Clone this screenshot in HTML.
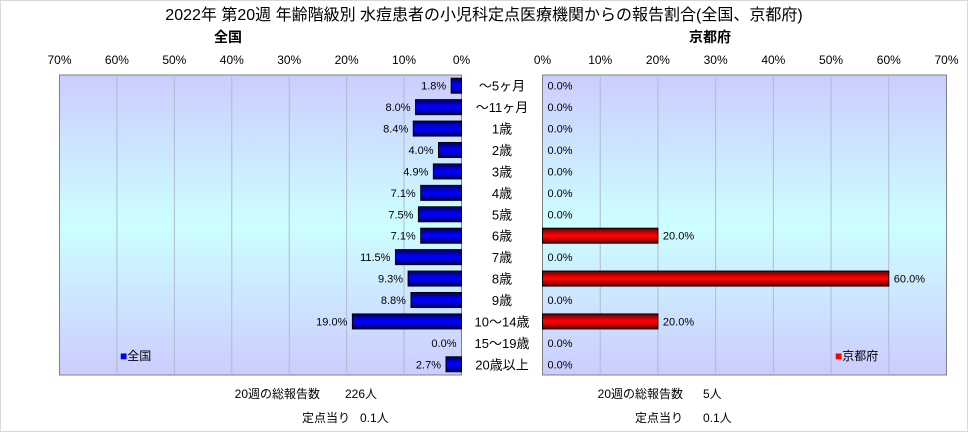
<!DOCTYPE html>
<html><head><meta charset="utf-8"><style>
html,body{margin:0;padding:0;background:#fff;}
body{width:968px;height:432px;overflow:hidden;font-family:"Liberation Sans","Noto Sans CJK JP",sans-serif;}
svg text{font-family:"Liberation Sans","Noto Sans CJK JP",sans-serif;}
</style></head><body>
<svg id="chart" width="968" height="432" xmlns="http://www.w3.org/2000/svg">
<defs>
<linearGradient id="bg" x1="0" y1="0" x2="0" y2="1">
<stop offset="0" stop-color="#ccccff"/><stop offset="0.5" stop-color="#ccffff"/><stop offset="1" stop-color="#ccccff"/>
</linearGradient>
<linearGradient id="blue" x1="0" y1="0" x2="0" y2="1">
<stop offset="0" stop-color="#000060"/><stop offset="0.45" stop-color="#0000ff"/><stop offset="0.55" stop-color="#0000ff"/><stop offset="1" stop-color="#000060"/>
</linearGradient>
<linearGradient id="red" x1="0" y1="0" x2="0" y2="1">
<stop offset="0" stop-color="#600000"/><stop offset="0.45" stop-color="#ff0000"/><stop offset="0.55" stop-color="#ff0000"/><stop offset="1" stop-color="#600000"/>
</linearGradient>
</defs>
<rect x="0.5" y="0.5" width="967" height="431" fill="#fff" stroke="#d8d8d8"/>
<text x="484" y="20" font-size="16" text-anchor="middle">2022年 第20週 年齢階級別 水痘患者の小児科定点医療機関からの報告割合(全国、京都府)</text>
<text x="228" y="42" font-size="14" font-weight="bold" text-anchor="middle">全国</text>
<text x="710" y="42" font-size="14" font-weight="bold" text-anchor="middle">京都府</text>
<rect x="59.5" y="75" width="402" height="300" fill="url(#bg)" stroke="#808080"/>
<rect x="542.5" y="75" width="404" height="300" fill="url(#bg)" stroke="#808080"/>
<g id="grid"></g><g id="bars"></g><g id="labels"></g>
<text x="120" y="360" font-size="12"><tspan fill="#0000ff">■</tspan>全国</text>
<text x="835" y="360" font-size="12"><tspan fill="#ff0000">■</tspan>京都府</text>
<text x="320" y="398" font-size="12" text-anchor="end">20週の総報告数</text>
<text x="345" y="398" font-size="12">226人</text>
<text x="350" y="422" font-size="12" text-anchor="end">定点当り</text>
<text x="360" y="422" font-size="12">0.1人</text>
<text x="683" y="398" font-size="12" text-anchor="end">20週の総報告数</text>
<text x="703" y="398" font-size="12">5人</text>
<text x="683" y="422" font-size="12" text-anchor="end">定点当り</text>
<text x="703" y="422" font-size="12">0.1人</text>
</svg>
<script>
const categories=["～5ヶ月","～11ヶ月","1歳","2歳","3歳","4歳","5歳","6歳","7歳","8歳","9歳","10～14歳","15～19歳","20歳以上"];
const nationalValues=[1.8,8.0,8.4,4.0,4.9,7.1,7.5,7.1,11.5,9.3,8.8,19.0,0.0,2.7];
const kyotoValues=[0,0,0,0,0,0,0,20.0,0,60.0,0,20.0,0,0];
const tickValues=[0,10,20,30,40,50,60,70];
const NS="http://www.w3.org/2000/svg";
const TOP=75,BOT=375,N=categories.length,RH=(BOT-TOP)/N;
const xl=v=>461.5-v*(402/70);
const xr=v=>542.5+v*(404/70);
const yc=i=>TOP+RH*(i+0.5);
function mk(tag,attrs,parent){const e=document.createElementNS(NS,tag);for(const k in attrs)e.setAttribute(k,attrs[k]);parent.appendChild(e);return e;}
const g=document.getElementById('grid'),b=document.getElementById('bars'),l=document.getElementById('labels');
tickValues.forEach(t=>{
  if(t>0&&t<70){
    const a=mk('line',{x1:xl(t),x2:xl(t),y1:TOP,y2:BOT,stroke:'#b4b8cc'},g);
    
    
    const c=mk('line',{x1:xr(t),x2:xr(t),y1:TOP,y2:BOT,stroke:'#b4b8cc'},g);
    
    
  }
  const t1=mk('text',{x:xl(t),y:64,'font-size':12,'text-anchor':'middle'},l);t1.textContent=t+'%';
  
  
  const t2=mk('text',{x:xr(t),y:64,'font-size':12,'text-anchor':'middle'},l);t2.textContent=t+'%';
  
  
});
categories.forEach((c,i)=>{
  const y=yc(i);
  const ct=mk('text',{x:502,y:y+5,'font-size':13,'text-anchor':'middle'},l);ct.textContent=c;
  
  
  const v=nationalValues[i];
  if(v>0){const r=mk('rect',{x:xl(v),y:y-7.5,width:xl(0)-xl(v),height:15,fill:'url(#blue)',stroke:'#000'},b);
    
    }
  const vt=mk('text',{x:xl(v)-5,y:y+4,'font-size':11,'text-anchor':'end'},l);vt.textContent=v.toFixed(1)+'%';
  
  
  const k=kyotoValues[i];
  if(k>0){const r=mk('rect',{x:xr(0),y:y-7.5,width:xr(k)-xr(0),height:15,fill:'url(#red)',stroke:'#000'},b);
    
    }
  const kt=mk('text',{x:xr(k)+5,y:y+4,'font-size':11},l);kt.textContent=k.toFixed(1)+'%';
  
  
});
</script>
</body></html>
